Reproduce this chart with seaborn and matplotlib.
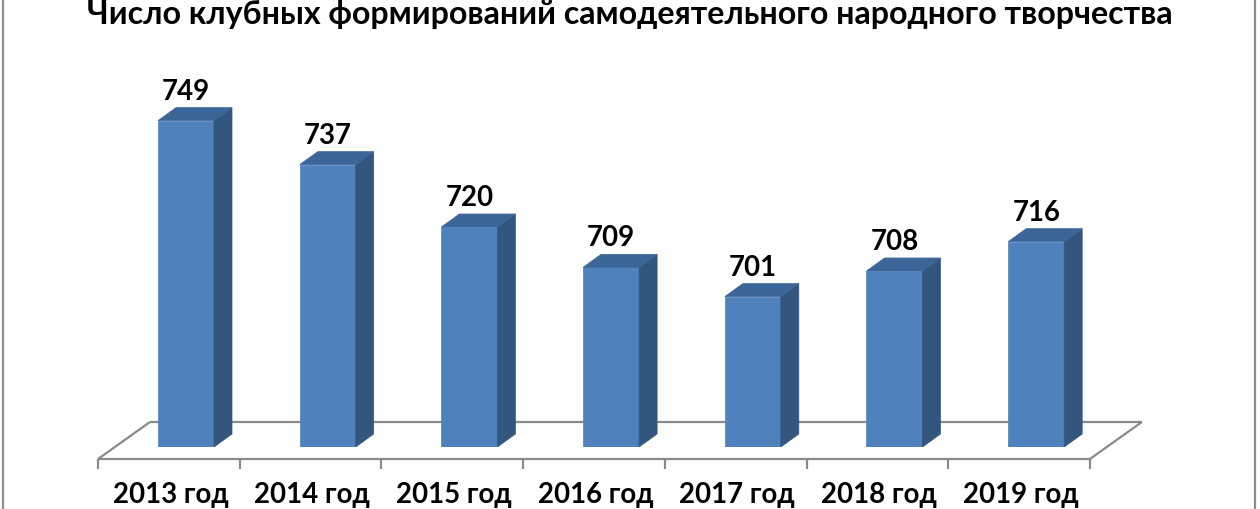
import matplotlib
matplotlib.use("Agg")
import matplotlib.pyplot as plt
from matplotlib.patches import Polygon
from matplotlib.lines import Line2D
import seaborn as sns
import pandas as pd

# ---- data ----
years = ["2013 год", "2014 год", "2015 год", "2016 год", "2017 год", "2018 год", "2019 год"]
counts = [749, 737, 720, 709, 701, 708, 716]
title_text = "Число клубных формирований самодеятельного народного творчества"
axis_floor = 660

sns.set_theme(style="white")
plt.rcParams['font.family'] = ['Lato', 'DejaVu Sans']

W, H = 1260, 510
DPI = 100
fig = plt.figure(figsize=(W / DPI, H / DPI), dpi=DPI)
fig.patch.set_facecolor('white')

# pixel geometry of the reference
x0_px = 186.0     # centre of first bar front face
step_px = 141.7   # category spacing
base_px = 448.0   # y (from top) of bar bottoms
unit_px = 3.667   # pixels per value unit

ax = fig.add_axes([0, (H - base_px) / H, 1, base_px / H])
ax.set_facecolor('none')

df = pd.DataFrame({"year": years, "count": counts})
sns.barplot(data=df, x="year", y="count", color="#4F81BD", saturation=1,
            width=56 / step_px, ax=ax, edgecolor="#5B8BC6", linewidth=0.6,
            zorder=3)
ticks = list(ax.get_xticks())
bars = list(ax.patches)

ax.set_xlim(-x0_px / step_px, (W - x0_px) / step_px)
ax.set_ylim(axis_floor, axis_floor + base_px / unit_px)
ax.axis('off')

# ---- 3D faces ----
dx = 18 / step_px
dy = 13 / unit_px
side_col = "#33567F"
top_col = "#3C6598"
for p in bars:
    x = p.get_x()
    w = p.get_width()
    top = p.get_y() + p.get_height()
    side = Polygon([(x + w, axis_floor), (x + w + dx, axis_floor + dy),
                    (x + w + dx, top + dy), (x + w, top)],
                   closed=True, facecolor=side_col, edgecolor=side_col,
                   linewidth=0.5, zorder=3)
    topf = Polygon([(x, top), (x + dx, top + dy), (x + w + dx, top + dy),
                    (x + w, top)], closed=True, facecolor=top_col,
                   edgecolor=top_col, linewidth=0.5, zorder=3)
    ax.add_patch(side)
    ax.add_patch(topf)

# ---- floor ----
fshift = 0.121
fdx = 52 / step_px
fdy = 37 / unit_px
fy = axis_floor - 12 / unit_px
fx0 = ticks[0] - 0.5 - fshift
fx1 = ticks[-1] + 0.5 - fshift
gcol = "#8A8A8A"
lkw = dict(color=gcol, lw=1.6, clip_on=False, zorder=1, solid_capstyle='butt')
ax.plot([fx0, fx1], [fy, fy], **lkw)
ax.plot([fx0 + fdx, fx1 + fdx], [fy + fdy, fy + fdy], **lkw)
ax.plot([fx0, fx0 + fdx], [fy, fy + fdy], **lkw)
ax.plot([fx1, fx1 + fdx], [fy, fy + fdy], **lkw)
for k in range(len(ticks) + 1):
    tx = fx0 + k
    ax.plot([tx, tx], [fy, fy - 10 / unit_px], **lkw)

fig.canvas.draw()
renderer = fig.canvas.get_renderer()


def fit(t, target):
    fig.canvas.draw()
    wdt = t.get_window_extent(renderer).width
    t.set_fontsize(t.get_fontsize() * target / wdt)
    return t.get_fontsize()


# ---- category labels ----
xl = []
for t, lab in zip(ticks, years):
    xl.append(ax.text(t - 0.11, axis_floor - 55 / unit_px, lab, ha='center',
                      va='baseline', fontsize=18, fontweight='bold',
                      color='black', clip_on=False))
fs = fit(xl[2], 116)
for t in xl:
    t.set_fontsize(fs)

# ---- value labels ----
vl = []
for p, t, v in zip(bars, ticks, counts):
    top = p.get_y() + p.get_height()
    vl.append(ax.text(t, top + dy + 9 / unit_px, f"{v}", ha='center',
                      va='baseline', fontsize=19, fontweight='bold',
                      color='black', clip_on=False))
fs = fit(vl[4], 48)
for t in vl:
    t.set_fontsize(fs)

# ---- title ----
tt = fig.text(630 / W, 1 - 24 / H, title_text, ha='center', va='baseline',
              fontsize=20, fontweight='bold', color='black')
fit(tt, 1086)

# ---- chart border ----
for xp in (3, 1255):
    fig.add_artist(Line2D([xp / W, xp / W], [0, 1], transform=fig.transFigure,
                          color='#8C8C8C', lw=1.6))

fig.savefig("out.png", dpi=DPI, facecolor='white')
